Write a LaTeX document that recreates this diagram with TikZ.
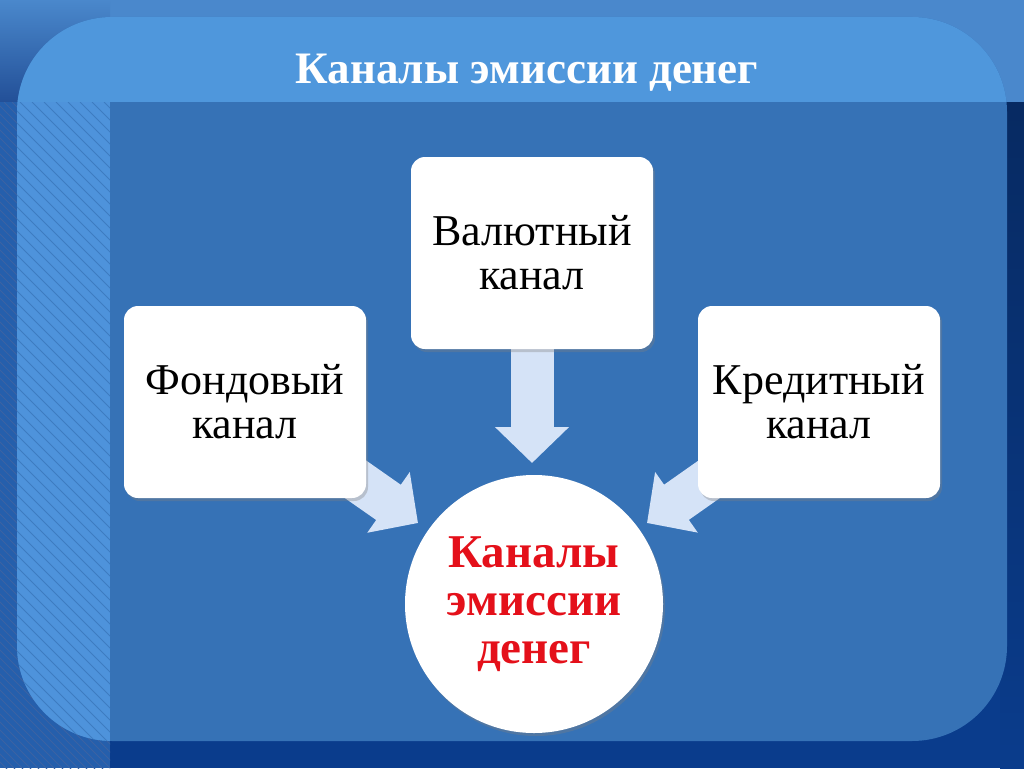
\documentclass[tikz,border=0pt]{standalone}
\usepackage{fontspec}
\setmainfont{Liberation Serif}
\usetikzlibrary{arrows.meta,shadows}

\definecolor{deepblue}{HTML}{0A3C8C}
\definecolor{bandblue}{HTML}{4A88CC}
\definecolor{panelblue}{HTML}{3672B6}
\definecolor{titleblue}{HTML}{4F97DC}
\definecolor{stripblue}{HTML}{4E93DB}
\definecolor{arrowblue}{HTML}{D5E3F7}
\definecolor{emisred}{HTML}{E4101A}

\tikzset{
  chanbox/.style = {rectangle, rounded corners = 14pt, fill = white,
    minimum width = 242pt, minimum height = 192pt, align = center,
    font = \fontsize{44}{44}\selectfont,
    drop shadow = {shadow xshift = 2pt, shadow yshift = -3pt, opacity = .35}},
  bigarrow/.style = {draw = arrowblue, line width = 43pt,
    -{Triangle[length = 36pt, width = 72pt, fill = arrowblue]}},
  hatch/.style = {line width = .8pt}
}

\begin{document}
\begin{tikzpicture}[x = 1pt, y = -1pt]
  \useasboundingbox (0,0) rectangle (1024,768);

  % slide background
  \fill [deepblue] (0,0) rectangle (1024,768);
  \fill [bandblue] (0,0) rectangle (1024,102);
  \shade [top color = bandblue, bottom color = deepblue!90] (0,0) rectangle (110,102);
  \shade [top color = deepblue!70!black, bottom color = deepblue] (1000,102) rectangle (1024,768);
  \fill [deepblue!60!stripblue] (0,102) rectangle (110,768);
  \begin{scope}
    \clip (0,102) rectangle (110,768);
    \foreach \i in {-700,-692,...,110}
      \draw [hatch, deepblue!80] (\i,102) -- ++(700,700);
  \end{scope}

  % rounded panel
  \fill [panelblue, rounded corners = 95pt] (17,17) rectangle (1007,741);
  \begin{scope}
    \clip [rounded corners = 95pt] (17,17) rectangle (1007,741);
    \fill [titleblue] (0,0) rectangle (1024,102);
    \fill [stripblue] (0,102) rectangle (110,768);
    \clip (0,102) rectangle (110,768);
    \foreach \i in {-700,-688,...,110}
      \draw [hatch, panelblue!70!stripblue] (\i,102) -- ++(700,700);
  \end{scope}

  \node [anchor = base, text = white, font = \fontsize{45}{54}\selectfont\bfseries]
        (ttl) at (527,83) {Каналы эмиссии денег};

  % arrows first, boxes on top of them
  \coordinate (tipL) at (418,523);
  \coordinate (tipV) at (532,463);
  \coordinate (tipK) at (647,523);
  \coordinate (cL) at (245,402);
  \coordinate (cV) at (532,253);
  \coordinate (cK) at (819,402);
  \foreach \src/\dst in {cL/tipL, cV/tipV, cK/tipK}
    \draw [bigarrow] (\src) -- (\dst);

  \foreach \pos/\first/\second [count = \id] in {
    cL/Фондовый/канал,
    cV/Валютный/канал,
    cK/Кредитный/канал
  } \node [chanbox] (ch\id) at (\pos) {\first\\\second};

  \node [circle, fill = white, minimum size = 258pt, align = center,
        text = emisred, font = \fontsize{47}{48}\selectfont\bfseries,
        drop shadow = {shadow xshift = 2pt, shadow yshift = -3pt, opacity = .35}]
        (emis) at (534,604) {Каналы\\эмиссии\\денег};
\end{tikzpicture}
\end{document}
